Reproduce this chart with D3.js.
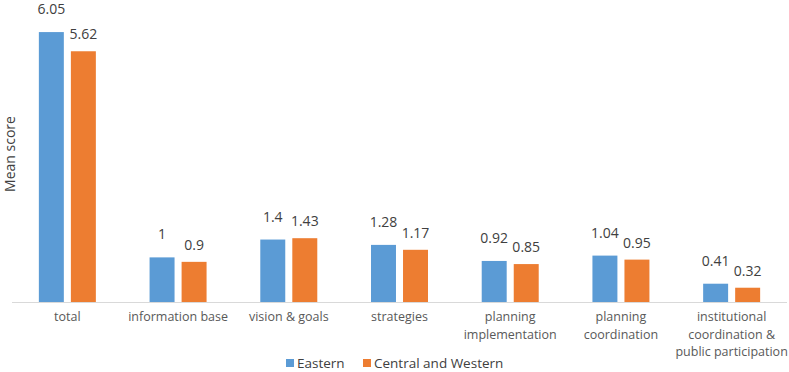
<html>
<head>
<script src="https://d3js.org/d3.v7.min.js"></script>
<style>
  body { margin: 0; background: #fff; }
  text { font-family: "Open Sans", sans-serif; }
</style>
</head>
<body>
<svg id="chart" width="789" height="372"></svg>
<script>
// data
const categories = ["total", "information base", "vision & goals", "strategies",
  "planning implementation", "planning coordination",
  "institutional coordination & public participation"];
const categoryLines = [["total"], ["information base"], ["vision & goals"], ["strategies"],
  ["planning", "implementation"], ["planning", "coordination"],
  ["institutional", "coordination &", "public participation"]];
const seriesNames = ["Eastern", "Central and Western"];
const eastern = [6.05, 1, 1.4, 1.28, 0.92, 1.04, 0.41];
const centralWestern = [5.62, 0.9, 1.43, 1.17, 0.85, 0.95, 0.32];
const valueLabels = [
  ["6.05", "1", "1.4", "1.28", "0.92", "1.04", "0.41"],
  ["5.62", "0.9", "1.43", "1.17", "0.85", "0.95", "0.32"]
];
const colors = ["#5B9BD5", "#ED7D31"];

const svg = d3.select("svg#chart");
const baseY = 302;

const x0 = d3.scaleBand().domain(categories).range([12, 787]);
const x1 = d3.scaleBand().domain(seriesNames).range([0, 57]).paddingInner(0.22);
const y = d3.scaleLinear().domain([0, 6.5]).range([baseY, 12]);

const rows = categories.map((c, i) => ({cat: c, vals: [eastern[i], centralWestern[i]], i: i}));

// axis line
svg.append("line")
  .attr("x1", 12).attr("x2", 787)
  .attr("y1", baseY + 0.5).attr("y2", baseY + 0.5)
  .attr("stroke", "#d9d9d9").attr("stroke-width", 1);

const groups = svg.selectAll("g.cat").data(rows).join("g")
  .attr("class", "cat")
  .attr("transform", d => `translate(${x0(d.cat) + (x0.bandwidth() - 57) / 2},0)`);

groups.selectAll("rect").data(d => d.vals.map((v, s) => ({v: v, s: s}))).join("rect")
  .attr("x", d => x1(seriesNames[d.s]))
  .attr("width", x1.bandwidth())
  .attr("y", d => y(d.v))
  .attr("height", d => baseY - y(d.v))
  .attr("fill", d => colors[d.s]);

// value labels (Eastern sits a bit higher, like the original)
const labelGap = [18, 12];
groups.selectAll("text.val").data(d => d.vals.map((v, s) => ({v: v, s: s, i: d.i}))).join("text")
  .attr("class", "val")
  .attr("x", d => x1(seriesNames[d.s]) + x1.bandwidth() / 2)
  .attr("y", d => y(d.v) - labelGap[d.s])
  .attr("text-anchor", "middle")
  .attr("font-size", 14)
  .attr("fill", "#404040")
  .text(d => valueLabels[d.s][d.i]);

// category labels
const catText = svg.selectAll("text.cat").data(rows).join("text")
  .attr("class", "cat")
  .attr("x", d => x0(d.cat) + x0.bandwidth() / 2)
  .attr("y", 321)
  .attr("text-anchor", "middle")
  .attr("font-size", 12.5)
  .attr("fill", "#595959");
catText.selectAll("tspan").data(d => categoryLines[d.i]).join("tspan")
  .attr("x", function() { return d3.select(this.parentNode).attr("x"); })
  .attr("dy", (d, k) => k === 0 ? 0 : 17.5)
  .text(d => d);

// y axis title
svg.append("text")
  .attr("transform", "translate(15,154) rotate(-90)")
  .attr("text-anchor", "middle")
  .attr("font-size", 14)
  .attr("fill", "#404040")
  .text("Mean score");

// legend
const legendX = [286, 363];
const legend = svg.selectAll("g.legend").data(seriesNames).join("g")
  .attr("class", "legend")
  .attr("transform", (d, i) => `translate(${legendX[i]},359)`);
legend.append("rect").attr("width", 8).attr("height", 8).attr("fill", (d, i) => colors[i]);
legend.append("text")
  .attr("x", 11).attr("y", 9)
  .attr("font-size", 13.5)
  .attr("fill", "#404040")
  .text(d => d);
</script>
</body>
</html>
